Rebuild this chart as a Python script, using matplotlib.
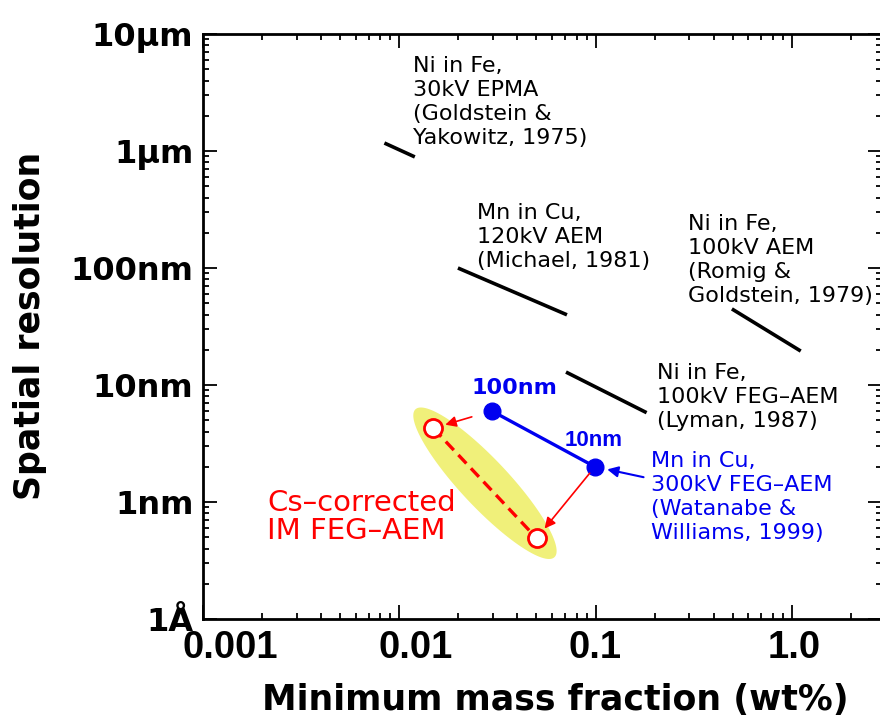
import matplotlib
matplotlib.use('Agg')
import matplotlib.pyplot as plt
import numpy as np
import matplotlib.transforms as mtransforms
from matplotlib.ticker import FixedLocator, LogLocator, NullFormatter
from matplotlib.patches import Polygon

# ---------------- data ----------------
epma_x = [0.0084, 0.0120]
epma_y = [1.17e-6, 8.9e-7]
michael_x = [0.0199, 0.0715]
michael_y = [1.0e-7, 3.98e-8]
romig_x = [0.495, 1.11]
romig_y = [4.47e-8, 1.95e-8]
lyman_x = [0.0707, 0.182]
lyman_y = [1.29e-8, 5.8e-9]
watanabe_x = [0.0296, 0.0993]
watanabe_y = [6.0e-9, 2.0e-9]
cs_x = [0.0149, 0.0501]
cs_y = [4.27e-9, 4.9e-10]

xticks = [0.001, 0.01, 0.1, 1.0]
xticklabels = ['0.001', '0.01', '0.1', '1.0']
yticks = [1e-10, 1e-9, 1e-8, 1e-7, 1e-6, 1e-5]
yticklabels = ['1Å', '1nm', '10nm', '100nm', '1µm', '10µm']

txt_epma = 'Ni in Fe,\n30kV EPMA\n(Goldstein &\nYakowitz, 1975)'
txt_michael = 'Mn in Cu,\n120kV AEM\n(Michael, 1981)'
txt_romig = 'Ni in Fe,\n100kV AEM\n(Romig &\nGoldstein, 1979)'
txt_lyman = 'Ni in Fe,\n100kV FEG\u2013AEM\n(Lyman, 1987)'
txt_watanabe = 'Mn in Cu,\n300kV FEG\u2013AEM\n(Watanabe &\nWilliams, 1999)'
txt_cs = 'Cs\u2013corrected\nIM FEG\u2013AEM'
lbl_100 = '100nm'
lbl_10 = '10nm'

# ---------------- figure ----------------
W, H = 880, 719
fig = plt.figure(figsize=(W / 100, H / 100), dpi=100)
L, R, B, T = 203, 882, 619, 34
ax = fig.add_axes([L / W, (H - B) / H, (R - L) / W, (B - T) / H])
ax.set_xscale('log')
ax.set_yscale('log')
ax.set_xlim(0.001, 2.88)
ax.set_ylim(1e-10, 1e-5)

for s in ax.spines.values():
    s.set_linewidth(2.0)

ax.xaxis.set_major_locator(FixedLocator(xticks))
ax.yaxis.set_major_locator(FixedLocator(yticks))
ax.xaxis.set_minor_locator(LogLocator(base=10, subs=np.arange(2, 10)))
ax.yaxis.set_minor_locator(LogLocator(base=10, subs=np.arange(2, 10)))
ax.xaxis.set_minor_formatter(NullFormatter())
ax.yaxis.set_minor_formatter(NullFormatter())
ax.set_xticklabels(xticklabels, fontsize=27.5, fontweight='bold',
                   family=['Liberation Sans', 'DejaVu Sans'])
ax.set_yticklabels(yticklabels, fontsize=23, fontweight='bold',
                   family=['DejaVu Sans'])
ax.tick_params(which='both', direction='in', top=True, right=True, width=1.3)
ax.tick_params(which='major', length=10)
ax.tick_params(which='minor', length=4.5)
ax.tick_params(axis='x', which='major', pad=8)
ax.tick_params(axis='y', which='major', pad=7)

# per-label horizontal offsets for x tick labels (points)
x_offsets = [20, 12, 0, 1.5]
for lab, dx in zip(ax.get_xticklabels(), x_offsets):
    lab.set_transform(lab.get_transform() +
                      mtransforms.ScaledTranslation(dx / 72, 0, fig.dpi_scale_trans))

fig.text(555 / W, (H - 710) / H, 'Minimum mass fraction (wt%)', fontsize=25,
         fontweight='bold', ha='center', va='baseline')
fig.text(30 / W, (H - 326) / H, 'Spatial resolution', fontsize=25,
         fontweight='bold', ha='center', va='center', rotation=90)

# ---------------- yellow ellipse around Cs-corrected points ----------------
fig.canvas.draw()
p1 = ax.transData.transform((cs_x[0], cs_y[0]))
p2 = ax.transData.transform((cs_x[1], cs_y[1]))
c = (p1 + p2) / 2
d = p2 - p1
ang = np.arctan2(d[1], d[0])
a = np.hypot(*d) / 2 + 26 * fig.dpi / 100
b = 24 * fig.dpi / 100
t = np.linspace(0, 2 * np.pi, 200)
ex = a * np.cos(t)
ey = b * np.sin(t)
px = c[0] + ex * np.cos(ang) - ey * np.sin(ang)
py = c[1] + ex * np.sin(ang) + ey * np.cos(ang)
pts = ax.transData.inverted().transform(np.column_stack([px, py]))
ax.add_patch(Polygon(pts, closed=True, facecolor='#F0F07A', edgecolor='none', zorder=1))

# ---------------- black reference lines ----------------
for xs, ys in [(epma_x, epma_y), (michael_x, michael_y), (romig_x, romig_y), (lyman_x, lyman_y)]:
    ax.plot(xs, ys, color='black', lw=2.6, solid_capstyle='butt', zorder=3)

# ---------------- blue Watanabe line ----------------
blue = '#0000F0'
red = '#FF0000'
ax.plot(watanabe_x, watanabe_y, color=blue, lw=2.4, marker='o', ms=12,
        mfc=blue, mec=blue, zorder=4)

# ---------------- red Cs-corrected ----------------
ax.plot(cs_x, cs_y, color=red, lw=2.4, ls=(0, (3.5, 2.0)), zorder=4)
ax.plot(cs_x, cs_y, ls='none', marker='o', ms=13, mfc='white', mec=red, mew=2.0, zorder=5)

# red arrows
arrow_kw = dict(arrowstyle='-|>', color=red, lw=1.2, mutation_scale=16)
ax.annotate('', xy=(cs_x[0], cs_y[0]), xytext=(watanabe_x[0], watanabe_y[0]),
            arrowprops=dict(shrinkA=15, shrinkB=9, **arrow_kw), zorder=6)
ax.annotate('', xy=(cs_x[1], cs_y[1]), xytext=(watanabe_x[1], watanabe_y[1]),
            arrowprops=dict(shrinkA=6, shrinkB=9, **arrow_kw), zorder=6)

# blue arrow from the label
ax.annotate('', xy=(watanabe_x[1], watanabe_y[1]), xytext=(35, -7.5),
            textcoords='offset points',
            arrowprops=dict(arrowstyle='-|>', color=blue, lw=1.5, mutation_scale=16,
                            shrinkA=0, shrinkB=9), zorder=6)

# ---------------- texts ----------------
def axfrac(px_, py_):
    return ((px_ - L) / (R - L), (B - py_) / (B - T))

tk = dict(fontsize=16, ha='left', va='top', linespacing=1.24, transform=ax.transAxes)
ax.text(*axfrac(413, 56), txt_epma, color='black', **tk)
ax.text(*axfrac(477, 203), txt_michael, color='black', **tk)
ax.text(*axfrac(688, 214), txt_romig, color='black', **tk)
ax.text(*axfrac(657, 363), txt_lyman, color='black', **tk)
ax.text(*axfrac(651, 451), txt_watanabe, color=blue, **tk)
ax.text(*axfrac(472, 378), lbl_100, color=blue, fontsize=16, fontweight='bold',
        ha='left', va='top', transform=ax.transAxes)
ax.text(*axfrac(565, 430), lbl_10, color=blue, fontsize=16, fontweight='bold',
        family=['Liberation Sans', 'DejaVu Sans'],
        ha='left', va='top', transform=ax.transAxes)
ax.text(*axfrac(267, 489), txt_cs, color=red, fontsize=21, ha='left', va='top',
        linespacing=1.0, transform=ax.transAxes)

fig.savefig('out.png', dpi=100)
